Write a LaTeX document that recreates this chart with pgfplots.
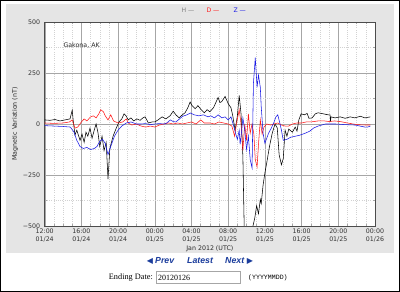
\documentclass[border=0pt]{standalone}
\usepackage{fontspec}
\setmainfont{DejaVu Sans}
\newfontfamily\serifF{Liberation Serif}
\newfontfamily\monoF{Liberation Mono}
\newfontfamily\arialF{Liberation Sans}
\usepackage{pgfplots}
\pgfplotsset{compat=1.18}
\definecolor{panel}{HTML}{E5E5E5}
\definecolor{navblue}{HTML}{1A3C9C}
\definecolor{hcol}{HTML}{000000}
\definecolor{dcol}{HTML}{FF1A1A}
\definecolor{zcol}{HTML}{1A1AE6}
\begin{document}
\begin{tikzpicture}[x=1bp,y=1bp]
\useasboundingbox (0,0) rectangle (400,292);
\fill[white] (0,0) rectangle (400,292);
\fill[panel] (6,39) rectangle (394,288);
\draw[black, line width=1.5bp] (0.75,0.75) rectangle (399.25,291.25);
\begin{axis}[
  at={(44.7bp,66bp)}, anchor=south west,
  scale only axis, width=330.3bp, height=204bp,
  xmin=0, xmax=36, ymin=-500, ymax=500,
  xtick={0,4,...,36},
  xticklabels={{12:00\\01/24},{16:00\\01/24},{20:00\\01/24},{00:00\\01/25},{04:00\\01/25},{08:00\\01/25},{12:00\\01/25},{16:00\\01/25},{20:00\\01/25},{00:00\\01/26}},
  minor x tick num=3,
  ytick={-500,-250,0,250,500},
  yticklabels={−500,−250,0,250,500},
  minor y tick num=1,
  grid=both,
  major grid style={gray!70, line width=0.4bp},
  minor grid style={gray!35, dash pattern=on 0.6bp off 1.6bp, line width=0.4bp},
  axis line style={gray!60!black, line width=0.5bp},
  major tick length=0bp, minor tick length=2bp,
  tick style={gray!70, line width=0.4bp},
  axis background/.style={fill=white},
  ticklabel style={font=\fontsize{6.3}{8.5}\selectfont, text=black!80},
  xticklabel style={align=center, yshift=1bp},
  yticklabel style={xshift=-1bp},
  xlabel={Jan 2012 (UTC)},
  ylabel={Magnetic Variation (nT)},
  label style={font=\fontsize{6.3}{8}\selectfont, text=black!85},
  xlabel style={yshift=3.5bp},
  ylabel style={yshift=-2bp},
]
% H
\addplot[hcol, line width=0.55bp] coordinates {
(0,20)(0.58,18)(1.12,22)(1.67,15)(2.2,20)(2.76,25)(3.0,68)(3.1,20)(3.3,-54)(3.5,-30)(3.85,-80)(4.07,-50)(4.3,-90)(4.5,-40)(4.7,-60)(4.94,-20)(5.16,-70)(5.4,-30)(5.6,0)(5.8,-40)(6.0,-110)(6.25,-60)(6.47,-130)(6.7,-90)(6.9,-270)(7.1,-120)(7.45,-60)(7.8,-20)(8.1,10)(8.4,25)(8.65,50)(8.87,40)(9.1,20)(9.4,30)(9.7,15)(10.05,25)(10.4,18)(10.7,30)(10.95,35)(11.3,5)(11.7,10)(12.0,10)(12.35,20)(12.8,35)(13.2,25)(13.66,40)(14.0,63)(14.3,45)(14.65,30)(15.0,45)(15.3,55)(15.6,80)(15.85,108)(16.06,90)(16.4,75)(16.7,90)(17.05,70)(17.4,55)(17.7,70)(18.0,60)(18.4,80)(18.6,100)(18.9,130)(19.1,105)(19.3,110)(19.66,135)(20.0,100)(20.3,80)(20.5,40)(20.75,-30)(21.0,40)(21.2,140)(21.4,50)(21.6,-160)(21.75,-520)(22.4,-560)(22.9,-460)(23.1,-400)(23.3,-440)(23.5,-370)(23.6,-390)(23.8,-300)(24.0,-240)(24.2,-190)(24.5,-110)(24.8,-45)(25.1,0)(25.35,-20)(25.55,-150)(25.8,-200)(26.0,-170)(26.2,-30)(26.4,-60)(26.6,-25)(27.0,-40)(27.3,-15)(27.5,-35)(27.7,20)(27.95,50)(28.3,45)(28.6,52)(28.8,28)(29.15,30)(29.5,50)(29.8,55)(30.35,50)(30.9,45)(31.1,45)(31.15,12)(31.2,35)(31.65,30)(32.2,35)(32.75,28)(33.3,35)(33.8,30)(34.4,38)(34.9,30)(35.5,35)
};
% D
\addplot[dcol, line width=0.55bp] coordinates {
(0,5)(1,3)(2,5)(2.7,10)(3.0,20)(3.3,-20)(3.6,-15)(4.0,10)(4.3,25)(4.6,15)(5.0,35)(5.3,40)(5.6,30)(5.9,50)(6.1,70)(6.4,60)(6.6,40)(6.9,20)(7.2,45)(7.5,15)(8.0,5)(8.5,10)(8.9,25)(9.1,5)(9.5,-5)(10.0,0)(10.5,-10)(11.0,-15)(11.5,-10)(12.0,-15)(12.5,-5)(13.0,0)(13.5,5)(14.0,0)(14.5,5)(15.0,0)(15.5,5)(16.0,10)(16.5,0)(17.0,20)(17.4,5)(18.0,5)(18.5,0)(19.0,10)(19.5,5)(20.0,0)(20.4,-10)(20.7,-60)(20.9,0)(21.2,70)(21.4,0)(21.6,-130)(21.8,0)(22.0,-80)(22.2,50)(22.4,-45)(22.6,0)(22.8,-50)(22.95,-175)(23.15,-210)(23.3,-100)(23.5,20)(23.7,-50)(23.9,-15)(24.2,0)(24.6,-5)(25.0,0)(25.4,5)(25.8,-5)(26.2,-10)(26.6,-10)(27.0,0)(27.5,5)(28.0,5)(28.5,10)(29.0,10)(29.8,15)(30.5,15)(31.0,12)(31.6,15)(32.2,12)(33.0,5)(34.0,-3)(35.0,-5)(35.5,-5)
};
% Z
\addplot[zcol, line width=0.55bp] coordinates {
(0,-8)(1,-10)(2,-12)(2.8,-15)(3.2,-40)(3.5,-80)(3.85,-110)(4.2,-120)(4.6,-115)(5.0,-125)(5.4,-120)(5.7,-110)(6.0,-85)(6.3,-75)(6.6,-95)(6.9,-150)(7.2,-110)(7.6,-60)(8.0,-30)(8.4,-10)(8.9,5)(9.4,10)(10.0,0)(10.5,0)(11.0,2)(11.5,-3)(12.0,0)(12.5,2)(13.0,0)(13.3,5)(13.7,20)(14.0,12)(14.3,10)(14.7,25)(15.0,37)(15.5,45)(15.9,54)(16.3,45)(16.8,40)(17.3,45)(17.8,35)(18.1,40)(18.5,30)(18.9,45)(19.3,30)(19.66,35)(20.0,20)(20.3,35)(20.6,-10)(20.8,-45)(21.0,-75)(21.2,-30)(21.3,-100)(21.5,-20)(21.6,30)(21.8,-30)(22.0,-125)(22.2,-60)(22.4,-175)(22.6,-215)(22.75,200)(22.95,325)(23.15,180)(23.3,240)(23.5,180)(23.6,85)(23.8,-45)(24.0,-95)(24.2,-70)(24.4,-45)(24.7,-20)(25.0,10)(25.2,35)(25.4,45)(25.6,10)(25.8,-30)(26.0,-80)(26.4,-75)(26.8,-65)(27.3,-60)(27.8,-55)(28.4,-45)(28.9,-35)(29.3,-20)(29.8,-10)(30.6,0)(31.7,0)(32.7,-3)(33.8,-5)(34.9,-15)(35.2,-15)(35.5,-10)
};
\end{axis}
% title legend
\node[anchor=west, font=\fontsize{6.2}{7}\selectfont, text=gray] at (178,282) {H ---};
\node[anchor=west, font=\fontsize{6.2}{7}\selectfont, text=dcol] at (203,282) {D ---};
\node[anchor=west, font=\fontsize{6.2}{7}\selectfont, text=zcol] at (230,282) {Z ---};
\node[anchor=west, font=\fontsize{6.3}{8}\selectfont, text=black!85] at (60,247) {Gakona, AK};
% navigation
\node[font=\fontsize{8}{9}\selectfont, text=navblue, inner sep=0] at (150,31) {◀};
\node[anchor=west, font=\arialF\bfseries\itshape\fontsize{8.8}{10}\selectfont, text=navblue, inner sep=0] at (155,31) {Prev};
\node[anchor=west, font=\arialF\bfseries\itshape\fontsize{8.8}{10}\selectfont, text=navblue, inner sep=0] at (187,31) {Latest};
\node[anchor=west, font=\arialF\bfseries\itshape\fontsize{8.8}{10}\selectfont, text=navblue, inner sep=0] at (225,31) {Next};
\node[font=\fontsize{8}{9}\selectfont, text=navblue, inner sep=0] at (250,31) {▶};
% ending date
\node[anchor=east, font=\serifF\fontsize{8.3}{9}\selectfont, inner sep=0] at (153,14.5) {Ending Date:};
\draw[gray!70, fill=white, line width=0.6bp] (156,9) rectangle (240,21);
\node[anchor=west, font=\serifF\fontsize{8}{9}\selectfont, inner sep=0] at (158,14.5) {20120126};
\node[anchor=west, font=\monoF\fontsize{6.6}{8}\selectfont, inner sep=0] at (248,14.5) {(YYYYMMDD)};
\end{tikzpicture}
\end{document}
